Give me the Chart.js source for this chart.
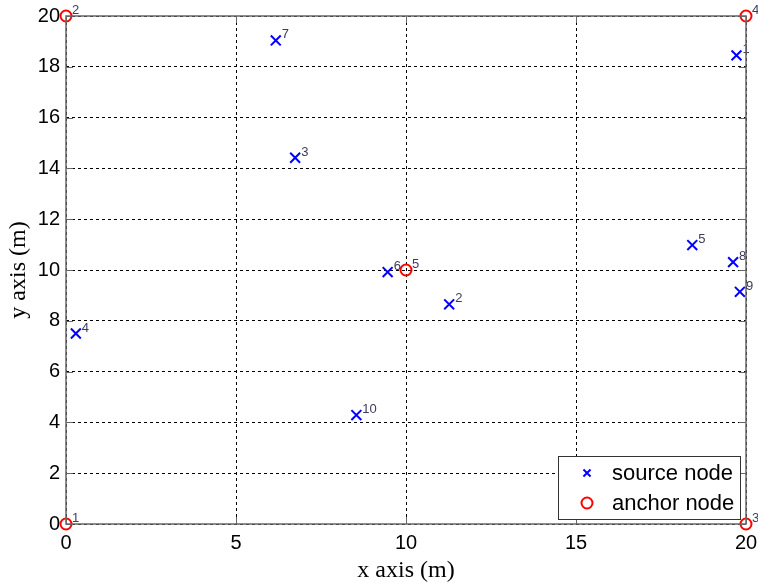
<!DOCTYPE html>
<html>
<head>
<meta charset="utf-8">
<script src="https://cdn.jsdelivr.net/npm/chart.js@4/dist/chart.umd.min.js"></script>
<style>
  html, body { margin: 0; padding: 0; background: #fff; }
</style>
</head>
<body>
<canvas id="myChart" width="758" height="585"></canvas>
<script>
// source node positions (m)
const sourceX = [19.72, 11.27, 6.74, 0.29, 18.42, 9.46, 6.17, 19.62, 19.82, 8.54];
const sourceY = [18.45, 8.65, 14.42, 7.50, 10.98, 9.92, 19.04, 10.31, 9.14, 4.29];
// anchor node positions (m)
const anchorX = [0, 0, 20, 20, 10];
const anchorY = [0, 20, 0, 20, 10];

const xTicks = [0, 5, 10, 15, 20];
const yTicks = [0, 2, 4, 6, 8, 10, 12, 14, 16, 18, 20];
const legendLabels = ['source node', 'anchor node'];

const toPoints = (xs, ys) => xs.map((x, i) => ({ x: x, y: ys[i] }));

const nodeLabels = {
    id: 'nodeLabels',
    afterDatasetsDraw(chart) {
        const ctx = chart.ctx;
        ctx.save();
        ctx.font = '13px Arial, "Liberation Sans"';
        ctx.fillStyle = '#3c3c5c';
        ctx.textBaseline = 'alphabetic';
        ctx.textAlign = 'left';
        chart.data.datasets.forEach((ds, di) => {
            chart.getDatasetMeta(di).data.forEach((pt, i) => {
                ctx.fillText(String(i + 1), pt.x + 6, pt.y - 2);
            });
        });
        ctx.restore();
    }
};

const frame = {
    id: 'frame',
    afterDraw(chart) {
        const ctx = chart.ctx;
        const a = chart.chartArea;
        const xs = chart.scales.x, ys = chart.scales.y;
        const L = Math.round(a.left), R = Math.round(a.right);
        const T = Math.round(a.top), B = Math.round(a.bottom);
        ctx.save();
        ctx.lineWidth = 1.5;
        ctx.strokeStyle = '#666';
        ctx.strokeRect(L, T, R - L, B - T);
        // inward tick marks
        ctx.lineWidth = 1;
        ctx.beginPath();
        xTicks.forEach(v => {
            const px = Math.round(xs.getPixelForValue(v)) + 0.5;
            ctx.moveTo(px, B); ctx.lineTo(px, B - 7);
            ctx.moveTo(px, T); ctx.lineTo(px, T + 7);
        });
        yTicks.forEach(v => {
            const py = Math.round(ys.getPixelForValue(v)) + 0.5;
            ctx.moveTo(L, py); ctx.lineTo(L + 7, py);
            ctx.moveTo(R, py); ctx.lineTo(R - 7, py);
        });
        ctx.stroke();

        // legend box
        const lx = 558, ly = 456, lw = 182, lh = 63;
        ctx.fillStyle = '#fff';
        ctx.fillRect(lx, ly, lw, lh);
        ctx.strokeStyle = '#333';
        ctx.strokeRect(lx + 0.5, ly + 0.5, lw, lh);
        ctx.font = '22px Arial, "Liberation Sans"';
        ctx.textBaseline = 'middle';
        ctx.textAlign = 'left';
        const rows = [ly + 17, ly + 47];
        chart.data.datasets.forEach((ds, di) => {
            const y = rows[di];
            ctx.strokeStyle = ds.borderColor;
            ctx.fillStyle = 'rgba(0,0,0,0)';
            ctx.lineWidth = 2;
            Chart.helpers.drawPoint(ctx, {
                pointStyle: ds.pointStyle,
                radius: di === 0 ? 5 : ds.pointRadius,
                borderWidth: 2
            }, 587, y);
            ctx.fillStyle = '#000';
            ctx.fillText(legendLabels[di], 612, y + 1);
        });
        ctx.restore();
    }
};

const ctx = document.getElementById('myChart').getContext('2d');
new Chart(ctx, {
    type: 'scatter',
    data: {
        datasets: [
            {
                label: legendLabels[0],
                data: toPoints(sourceX, sourceY),
                pointStyle: 'crossRot',
                pointRadius: 7,
                borderColor: '#0000ff',
                backgroundColor: '#0000ff',
                borderWidth: 2,
                clip: false
            },
            {
                label: legendLabels[1],
                data: toPoints(anchorX, anchorY),
                pointStyle: 'circle',
                pointRadius: 5.5,
                borderColor: '#ff0000',
                backgroundColor: 'rgba(0,0,0,0)',
                borderWidth: 2,
                clip: false
            }
        ]
    },
    options: {
        responsive: false,
        animation: false,
        events: [],
        layout: { padding: { top: 16, right: 12, left: 0, bottom: 0 } },
        plugins: {
            legend: { display: false },
            tooltip: { enabled: false }
        },
        scales: {
            x: {
                type: 'linear',
                min: 0, max: 20,
                afterBuildTicks: s => { s.ticks = xTicks.map(v => ({ value: v })); },
                afterFit: s => { s.height = 61; s.paddingLeft = 0; s.paddingRight = 0; },
                ticks: {
                    color: '#000',
                    font: { family: 'Arial, "Liberation Sans"', size: 20 },
                    padding: 7,
                    maxRotation: 0,
                    autoSkip: false
                },
                grid: { color: '#000', lineWidth: 1, drawTicks: false },
                border: { display: false, dash: [3, 3] },
                title: {
                    display: true,
                    text: 'x axis (m)',
                    color: '#000',
                    font: { family: '"Times New Roman", "Liberation Serif"', size: 24 },
                    padding: { top: 0, bottom: 0 }
                }
            },
            y: {
                type: 'linear',
                min: 0, max: 20,
                afterBuildTicks: s => { s.ticks = yTicks.map(v => ({ value: v })); },
                afterFit: s => { s.width = 66; s.paddingTop = 0; s.paddingBottom = 0; },
                ticks: {
                    color: '#000',
                    font: { family: 'Arial, "Liberation Sans"', size: 20 },
                    padding: 6,
                    autoSkip: false
                },
                grid: { color: '#000', lineWidth: 1, drawTicks: false },
                border: { display: false, dash: [3, 3] },
                title: {
                    display: true,
                    text: 'y axis (m)',
                    color: '#000',
                    font: { family: '"Times New Roman", "Liberation Serif"', size: 24 },
                    padding: { top: 4, bottom: 0 }
                }
            }
        }
    },
    plugins: [nodeLabels, frame]
});
</script>
</body>
</html>
